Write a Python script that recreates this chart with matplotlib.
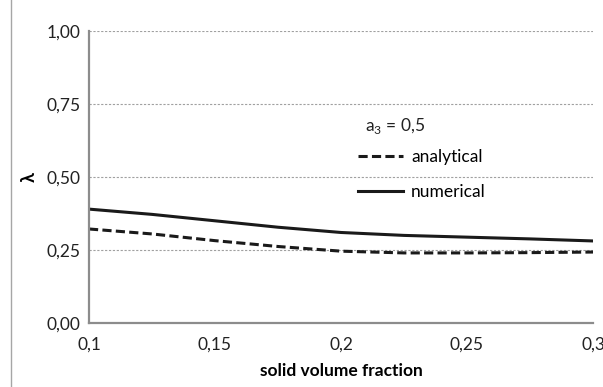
import matplotlib
matplotlib.use('Agg')
import matplotlib.pyplot as plt
from matplotlib.patches import Rectangle
from matplotlib.ticker import FuncFormatter

plt.rcParams['font.family'] = ['Lato', 'DejaVu Sans']

# values
phi = [0.1, 0.125, 0.15, 0.175, 0.2, 0.225, 0.25, 0.275, 0.3]
numerical = [0.390, 0.372, 0.350, 0.328, 0.310, 0.300, 0.294, 0.288, 0.281]
analytical = [0.322, 0.305, 0.282, 0.262, 0.246, 0.240, 0.240, 0.241, 0.243]
xticks = [0.1, 0.15, 0.2, 0.25, 0.3]
xtick_labels = ['0,1', '0,15', '0,2', '0,25', '0,3']
yticks = [0.0, 0.25, 0.5, 0.75, 1.0]

fig = plt.figure(figsize=(6.03, 3.87), dpi=100)
ax = fig.add_axes([89 / 603, 1 - 323 / 387, 504 / 603, 292 / 387])

# outer chart frame (excel style)
fig.patches.append(Rectangle((11 / 603, -0.2), 1.2, 1.2 + 1 - 7 / 387,
                             transform=fig.transFigure, fill=False,
                             edgecolor='#a6a6a6', linewidth=1.0))

ax.plot(phi, analytical, color='#1a1a1a', linestyle=(0, (3.0, 1.4)),
        linewidth=2.2, label='analytical')
ax.plot(phi, numerical, color='#1a1a1a', linewidth=2.2, label='numerical')

ax.set_xlim(0.1, 0.3)
ax.set_ylim(0, 1)
ax.set_xticks(xticks)
ax.set_xticklabels(xtick_labels)
ax.set_yticks(yticks)
ax.yaxis.set_major_formatter(FuncFormatter(lambda v, p: f'{v:.2f}'.replace('.', ',')))
ax.tick_params(length=0, labelsize=12.5, colors='#222222')
ax.tick_params(axis='x', pad=10)
ax.tick_params(axis='y', pad=6)

for y in yticks[1:]:
    ax.axhline(y, color='#a0a0a0', linestyle=(0, (2, 1.5)), linewidth=0.8, zorder=0)

for s in ['top', 'right']:
    ax.spines[s].set_visible(False)
for s in ['left', 'bottom']:
    ax.spines[s].set_color('#8c8c8c')
    ax.spines[s].set_linewidth(1.6)

ax.set_xlabel('solid volume fraction', fontsize=12.5, fontweight='bold', labelpad=7)
ax.set_ylabel('λ', fontsize=13, fontweight='bold', rotation=90, labelpad=6)

ax.text(0.548, 0.675, r'a$_{\mathregular{3}}$ = 0,5', transform=ax.transAxes,
        fontsize=12.5, va='center', ha='left', color='#222222')
leg = ax.legend(loc='upper left', bbox_to_anchor=(0.534, 0.596), frameon=False,
                fontsize=12.5, handlelength=2.6, handletextpad=0.45,
                labelspacing=1.08, borderaxespad=0, borderpad=0)

fig.savefig('out.png', dpi=100)
